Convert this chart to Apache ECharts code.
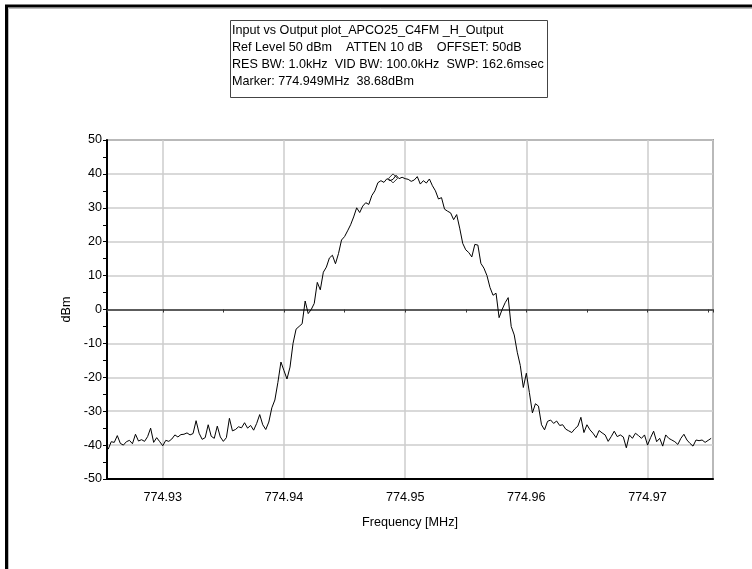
<!DOCTYPE html>
<html>
<head>
<meta charset="utf-8">
<title>Input vs Output plot_APCO25_C4FM _H_Output</title>
<script src="https://cdn.jsdelivr.net/npm/echarts@6/dist/echarts.min.js"></script>
<style>
  html, body { margin: 0; padding: 0; background: #fff; }
  #spectrum { width: 752px; height: 569px; }
</style>
</head>
<body>
<div id="spectrum"></div>
<script>
// sweep points, MHz
var freqs = [
  774.92550, 774.92575, 774.92600, 774.92625, 774.92650, 774.92675, 774.92700, 774.92725,
  774.92750, 774.92775, 774.92800, 774.92825, 774.92850, 774.92875, 774.92900, 774.92925,
  774.92950, 774.92975, 774.93000, 774.93025, 774.93050, 774.93075, 774.93100, 774.93125,
  774.93150, 774.93175, 774.93200, 774.93225, 774.93250, 774.93275, 774.93300, 774.93325,
  774.93350, 774.93375, 774.93400, 774.93425, 774.93450, 774.93475, 774.93500, 774.93525,
  774.93550, 774.93575, 774.93600, 774.93625, 774.93650, 774.93675, 774.93700, 774.93725,
  774.93750, 774.93775, 774.93800, 774.93825, 774.93850, 774.93875, 774.93900, 774.93925,
  774.93950, 774.93975, 774.94000, 774.94025, 774.94050, 774.94075, 774.94100, 774.94125,
  774.94150, 774.94175, 774.94200, 774.94225, 774.94250, 774.94275, 774.94300, 774.94325,
  774.94350, 774.94375, 774.94400, 774.94425, 774.94450, 774.94475, 774.94500, 774.94525,
  774.94550, 774.94575, 774.94600, 774.94625, 774.94650, 774.94675, 774.94700, 774.94725,
  774.94750, 774.94775, 774.94800, 774.94825, 774.94850, 774.94875, 774.94900, 774.94925,
  774.94950, 774.94975, 774.95000, 774.95025, 774.95050, 774.95075, 774.95100, 774.95125,
  774.95150, 774.95175, 774.95200, 774.95225, 774.95250, 774.95275, 774.95300, 774.95325,
  774.95350, 774.95375, 774.95400, 774.95425, 774.95450, 774.95475, 774.95500, 774.95525,
  774.95550, 774.95575, 774.95600, 774.95625, 774.95650, 774.95675, 774.95700, 774.95725,
  774.95750, 774.95775, 774.95800, 774.95825, 774.95850, 774.95875, 774.95900, 774.95925,
  774.95950, 774.95975, 774.96000, 774.96025, 774.96050, 774.96075, 774.96100, 774.96125,
  774.96150, 774.96175, 774.96200, 774.96225, 774.96250, 774.96275, 774.96300, 774.96325,
  774.96350, 774.96375, 774.96400, 774.96425, 774.96450, 774.96475, 774.96500, 774.96525,
  774.96550, 774.96575, 774.96600, 774.96625, 774.96650, 774.96675, 774.96700, 774.96725,
  774.96750, 774.96775, 774.96800, 774.96825, 774.96850, 774.96875, 774.96900, 774.96925,
  774.96950, 774.96975, 774.97000, 774.97025, 774.97050, 774.97075, 774.97100, 774.97125,
  774.97150, 774.97175, 774.97200, 774.97225, 774.97250, 774.97275, 774.97300, 774.97325,
  774.97350, 774.97375, 774.97400, 774.97425, 774.97450, 774.97475, 774.97500, 774.97525
]

// trace level at each sweep point, dBm
var levels = [
  -41.2, -39.0, -39.2, -37.2, -39.5, -40.0, -39.0, -38.6,
  -39.6, -36.8, -38.8, -38.4, -38.9, -37.5, -35.0, -39.2,
  -37.8, -39.0, -40.2, -38.6, -38.9, -38.2, -37.0, -37.6,
  -36.9, -36.8, -36.4, -37.0, -36.6, -32.8, -36.5, -38.3,
  -37.8, -34.0, -37.4, -38.0, -34.4, -37.6, -38.9, -37.8,
  -32.1, -35.8, -35.4, -34.6, -34.9, -33.4, -35.0, -34.2,
  -35.6, -33.6, -31.0, -34.0, -35.4, -33.2, -29.0, -26.7,
  -21.5, -15.5, -18.0, -20.5, -17.0, -10.0, -5.8, -5.0,
  -4.2, 2.5, -1.2, 0.0, 1.8, 8.0, 5.8, 11.0,
  12.5, 15.2, 16.0, 13.5, 16.5, 20.5, 21.5, 23.2,
  25.0, 27.3, 30.0, 28.6, 30.5, 31.5, 31.0, 33.6,
  35.0, 37.4, 38.0, 37.5, 38.6, 38.0, 38.4, 39.6,
  38.6, 39.0, 38.6, 38.4, 37.8, 38.2, 39.2, 37.0,
  38.0, 37.3, 38.5, 36.5, 35.0, 32.6, 33.0, 29.6,
  29.0, 28.5, 26.5, 28.0, 24.0, 19.5, 17.6, 16.8,
  15.5, 19.2, 19.0, 13.6, 12.2, 10.0, 6.5, 4.2,
  4.8, -2.4, 0.0, 2.0, 3.5, -5.0, -7.5, -12.6,
  -16.5, -23.0, -18.8, -24.5, -30.5, -27.8, -28.5, -34.0,
  -35.5, -33.0, -32.6, -33.6, -32.9, -34.2, -34.0, -35.3,
  -35.8, -36.3, -35.2, -34.4, -31.8, -36.3, -34.0, -35.5,
  -36.5, -37.8, -35.7, -36.4, -37.0, -38.9, -37.5, -35.9,
  -37.5, -37.0, -37.6, -40.8, -37.0, -38.0, -36.5, -37.2,
  -38.0, -37.0, -40.0, -37.8, -35.9, -39.0, -38.0, -40.3,
  -37.0, -38.0, -38.5, -39.0, -39.8, -38.0, -36.8, -38.5,
  -39.5, -40.3, -38.5, -38.7, -38.5, -39.2, -38.6, -38.0
]

// marker readout: [MHz, dBm]
var marker = [774.949, 38.68]

// text of the settings box
var infoLines = [
  'Input vs Output plot_APCO25_C4FM _H_Output',
  'Ref Level 50 dBm    ATTEN 10 dB    OFFSET: 50dB',
  'RES BW: 1.0kHz  VID BW: 100.0kHz  SWP: 162.6msec',
  'Marker: 774.949MHz  38.68dBm'
]

// axis ranges
var freqRange = [774.9254, 774.9754]
var levelRange = [-50, 50]

var font = 'Liberation Sans, Arial, sans-serif'
var fontSize = 12.6

var trace = freqs.map(function (f, i) {
  return [f, levels[i]]
})

var myChart = echarts.init(document.getElementById('spectrum'))

var option = {
  animation: false,
  backgroundColor: '#fff',
  textStyle: { fontFamily: font },
  grid: {
    left: 107,
    right: 39,
    top: 140,
    bottom: 90,
    show: true,
    borderColor: '#555',
    borderWidth: 1.5
  },
  xAxis: [
    {
      // bottom axis with the labels
      type: 'value',
      position: 'bottom',
      min: freqRange[0],
      max: freqRange[1],
      splitNumber: 5,
      name: 'Frequency [MHz]',
      nameLocation: 'middle',
      nameGap: 37,
      nameTextStyle: { color: '#000', fontSize: fontSize, fontFamily: font },
      axisLine: { onZero: false, lineStyle: { color: '#000', width: 2 } },
      axisTick: { show: false },
      axisLabel: {
        color: '#000',
        fontSize: fontSize,
        margin: 12,
        showMinLabel: false,
        showMaxLabel: false,
        formatter: function (v) { return v.toFixed(2) }
      },
      splitLine: { show: true, lineStyle: { color: '#cccccc', width: 1.5 } }
    },
    {
      // the 0 dBm line with its ticks
      type: 'value',
      position: 'bottom',
      min: freqRange[0],
      max: freqRange[1],
      splitNumber: 10,
      axisLine: { onZero: true, lineStyle: { color: '#333', width: 1.5 } },
      axisTick: { show: true, length: 3, lineStyle: { color: '#333' } },
      axisLabel: { show: false },
      splitLine: { show: false }
    }
  ],
  yAxis: {
    type: 'value',
    min: levelRange[0],
    max: levelRange[1],
    interval: 10,
    name: 'dBm',
    nameLocation: 'middle',
    nameGap: 32,
    nameTextStyle: { color: '#000', fontSize: fontSize, fontFamily: font },
    axisLine: { onZero: false, lineStyle: { color: '#000', width: 2 } },
    axisTick: { show: true, length: 4, lineStyle: { color: '#000' } },
    minorTick: { show: true, splitNumber: 2, length: 4, lineStyle: { color: '#000' } },
    axisLabel: { color: '#000', fontSize: fontSize, margin: 5 },
    splitLine: { show: true, lineStyle: { color: '#cccccc', width: 1.5 } }
  },
  series: [
    {
      name: 'trace',
      type: 'line',
      data: trace,
      showSymbol: false,
      symbol: 'none',
      lineStyle: { color: '#000', width: 1 },
      z: 3
    },
    {
      name: 'marker',
      type: 'scatter',
      data: [marker],
      symbol: 'diamond',
      symbolSize: [9, 9],
      itemStyle: { color: 'rgba(0,0,0,0)', borderColor: '#000', borderWidth: 1 },
      z: 4
    }
  ],
  graphic: [
    // window frame
    { type: 'line', shape: { x1: 5, y1: 6, x2: 752, y2: 6 }, style: { stroke: '#000', lineWidth: 3 } },
    { type: 'line', shape: { x1: 6.5, y1: 5, x2: 6.5, y2: 569 }, style: { stroke: '#000', lineWidth: 3 } },
    { type: 'line', shape: { x1: 8.5, y1: 8.5, x2: 752, y2: 8.5 }, style: { stroke: '#bbb', lineWidth: 1 } },
    { type: 'line', shape: { x1: 8.5, y1: 8.5, x2: 8.5, y2: 569 }, style: { stroke: '#bbb', lineWidth: 1 } },
    // settings box
    {
      type: 'rect',
      shape: { x: 230.5, y: 20.5, width: 317, height: 77 },
      style: { fill: '#fff', stroke: '#444', lineWidth: 1 },
      z: 10
    },
    {
      type: 'text',
      x: 232,
      y: 22,
      style: {
        text: infoLines.join('\n'),
        fontSize: fontSize,
        fontFamily: font,
        lineHeight: 17,
        fill: '#000'
      },
      z: 11
    }
  ]
}

myChart.setOption(option)
</script>
</body>
</html>
